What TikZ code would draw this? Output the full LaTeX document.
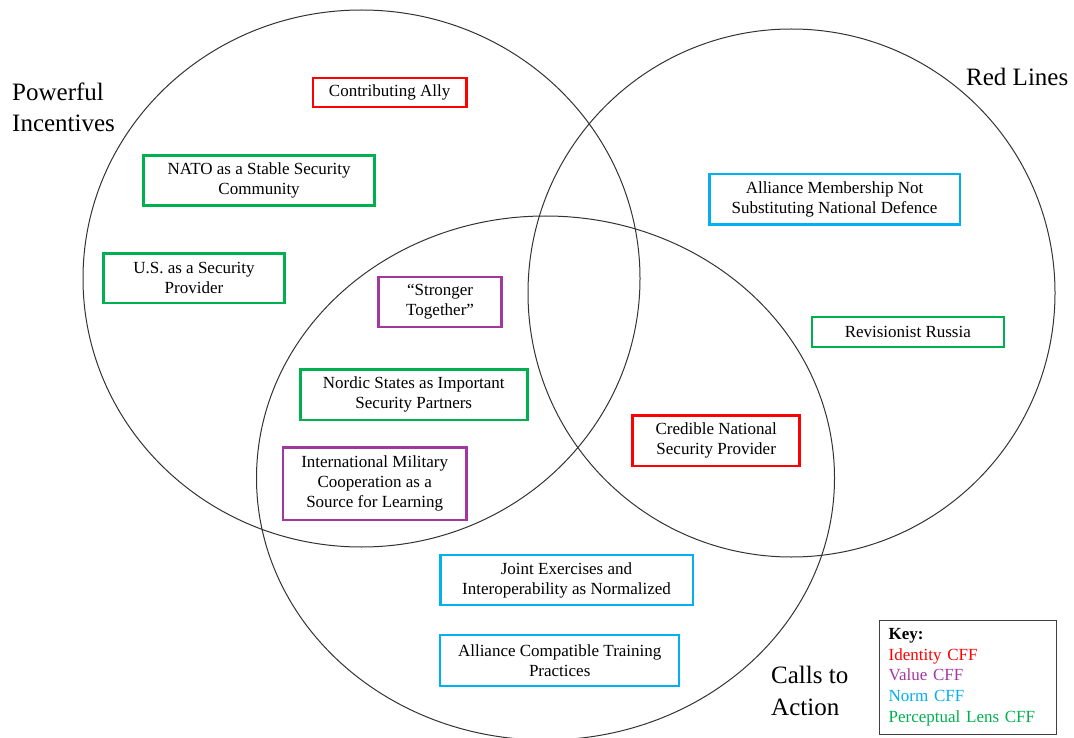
\documentclass[tikz,border=0pt]{standalone}
\usepackage{fontspec}
\setmainfont{Liberation Serif}
\usepackage{xcolor}
\usepackage{tikz}
\usetikzlibrary{shapes,arrows,positioning}

\definecolor{identity}{RGB}{255,0,0}
\definecolor{value}{RGB}{163,55,160}
\definecolor{norm}{RGB}{0,176,240}
\definecolor{lens}{RGB}{0,176,80}

\begin{document}
\begin{tikzpicture}[x=1pt,y=-1pt,
      set/.style={line width=1pt,black!80},
      cff/.style={draw=#1,line width=2.5pt,inner sep=0pt,align=center,
        font=\fontsize{17}{20}\selectfont},
      region/.style={anchor=base west,align=left,inner sep=0pt,
        font=\fontsize{25}{31.5}\selectfont}]
  \useasboundingbox (0,0) rectangle (1074,738);
  % the three sets
  \draw[set] (361.5,278.5) ellipse [x radius=278.5,y radius=268.5];
  \draw[set] (791.5,293) ellipse [x radius=263.5,y radius=264];
  \draw[set] (545.5,478) ellipse [x radius=289,y radius=262];
  \node[region] (incentives) at (12,132) {Powerful\\Incentives};
  \node[region] (redlines) at (966,86) {Red Lines};
  \node[region] (calls) at (771,715) {Calls to\\Action};
  % frames
  \node[cff=identity,minimum width=153.5pt,minimum height=29pt] (ally) at (389.6,92.5) {Contributing Ally};
  \node[cff=lens,minimum width=231pt,minimum height=50pt] (nato) at (259.1,180.5) {NATO as a Stable Security\\Community};
  \node[cff=lens,minimum width=181pt,minimum height=49.5pt] (us) at (194,278.3) {U.S. as a Security\\Provider};
  \node[cff=value,minimum width=123pt,minimum height=50pt] (stronger) at (440.1,302) {``Stronger\\Together''};
  \node[cff=norm,minimum width=250.5pt,minimum height=50.5pt] (membership) at (834.5,199.2) {Alliance Membership Not\\Substituting National Defence};
  \node[cff=lens,minimum width=192pt,minimum height=30pt] (russia) at (907.8,332.2) {Revisionist Russia};
  \node[cff=lens,minimum width=227pt,minimum height=50.5pt] (nordic) at (413.8,394.8) {Nordic States as Important\\Security Partners};
  \node[cff=value,minimum width=183.5pt,minimum height=72.5pt] (cooperation) at (374.7,483.8) {International Military\\Cooperation as a\\Source for Learning};
  \node[cff=identity,minimum width=167pt,minimum height=50.5pt] (credible) at (716.2,440.5) {Credible National\\Security Provider};
  \node[cff=norm,minimum width=252.5pt,minimum height=50pt] (exercises) at (566.5,580) {Joint Exercises and\\Interoperability as Normalized};
  \node[cff=norm,minimum width=239pt,minimum height=51pt] (training) at (559.7,660.3) {Alliance Compatible Training\\Practices};
  % key
  \node[draw=black!75,line width=1.2pt,inner xsep=9pt,text width=159pt,minimum height=114pt,
    align=left,font=\fontsize{17}{20.8}\selectfont] (key) at (968.2,677.2)
    {\textbf{Key:}\\\textcolor{identity}{Identity CFF}\\\textcolor{value}{Value CFF}\\
     \textcolor{norm}{Norm CFF}\\\textcolor{lens}{Perceptual Lens CFF}};
\end{tikzpicture}
\end{document}
